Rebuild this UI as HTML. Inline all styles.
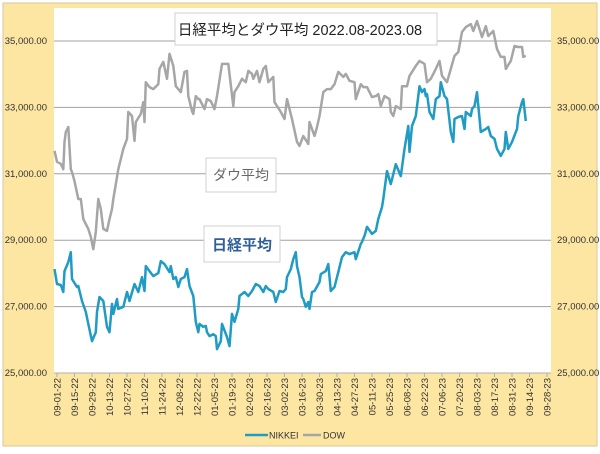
<!DOCTYPE html>
<html><head><meta charset="utf-8"><style>
body{margin:0;width:600px;height:449px;background:#fff;overflow:hidden;font-family:"Liberation Sans","Noto Sans CJK JP",sans-serif}
svg text{font-family:"Liberation Sans","Noto Sans CJK JP",sans-serif}
</style></head><body>
<svg id="chart" width="600" height="449" xmlns="http://www.w3.org/2000/svg">
<rect x="3" y="3" width="594" height="443" fill="#FDE6A2" stroke="#D6C79C" stroke-width="1"/>
<rect x="54" y="8" width="497" height="365" fill="#fff"/>
<g id="grid"></g><g id="axes"></g><g id="series"></g>
<g>
<rect x="175" y="13" width="262" height="32" fill="#fff" stroke="#D0D0D0"/>
<text x="300" y="35" font-size="14.5" text-anchor="middle" fill="#222">日経平均とダウ平均 2022.08-2023.08</text></g>
<g>
<rect x="206" y="158" width="70" height="34" fill="#fff" stroke="#D0D0D0"/>
<text x="241" y="180" font-size="14" text-anchor="middle" fill="#666">ダウ平均</text></g>
<g>
<rect x="204" y="226" width="76" height="36" fill="#fff" stroke="#D0D0D0"/>
<text x="242" y="250" font-size="15" font-weight="bold" text-anchor="middle" fill="#2F5E9B">日経平均</text></g>
<g>
<line x1="245" y1="435" x2="268" y2="435" stroke="#1F9BC4" stroke-width="2.5"/>
<text x="269" y="438.5" font-size="9" fill="#333">NIKKEI</text>
<line x1="303" y1="435" x2="321" y2="435" stroke="#A6A6A6" stroke-width="2.5"/>
<text x="323" y="438.5" font-size="9" fill="#333">DOW</text></g>
</svg>
<script>
const yTicks=[25000,27000,29000,31000,33000,35000];
const xTickLabels=["09-01-22","09-15-22","09-29-22","10-13-22","10-27-22","11-10-22","11-24-22","12-08-22","12-22-22","01-05-23","01-19-23","02-02-23","02-16-23","03-02-23","03-16-23","03-30-23","04-13-23","04-27-23","05-11-23","05-25-23","06-08-23","06-22-23","07-06-23","07-20-23","08-03-23","08-17-23","08-31-23","09-14-23","09-28-23"];
const nikkeiDays=[-2,0,3,5,6,9,11,12,16,17,20,23,25,28,31,32,34,37,40,42,44,45,48,49,53,56,58,62,65,68,70,71,74,77,81,83,86,90,91,93,95,97,99,102,104,106,109,111,113,114,117,119,120,122,125,127,128,131,132,136,138,140,142,145,146,150,153,156,159,162,165,167,169,173,175,178,181,183,184,187,189,191,192,194,196,197,199,201,202,204,206,210,211,215,217,219,222,225,228,231,234,238,239,243,244,246,248,252,255,257,260,261,264,267,271,275,278,281,282,284,287,290,292,294,295,296,298,301,303,306,307,310,312,315,317,318,321,324,326,327,331,332,334,336,339,343,345,347,350,352,355,358,359,361,364,368,369,372,373,375];
const nikkeiVals=[28130,27680,27650,27440,28070,28340,28640,27830,27590,27620,27170,26840,26480,25960,26230,26840,27290,27170,26390,26230,27080,26780,27230,26930,26990,27440,27170,27680,27440,27890,27470,28220,28070,27920,28010,28370,28280,28040,28220,27830,27890,27590,27830,27890,28130,27620,27320,26540,26230,26480,26390,26420,26230,26110,26170,26110,25720,25960,26480,26080,25810,26780,26540,26930,27320,27440,27320,27470,27680,27620,27440,27620,27530,27440,27140,27470,27440,27530,27890,28130,28430,28640,28220,27890,27290,27230,26990,27140,26930,27440,27470,27740,27980,28070,28280,27470,27590,28040,28490,28640,28580,28640,28430,28890,28950,29130,29400,29190,29280,29640,30000,30240,31080,30690,31290,30930,31750,32440,31660,32440,32740,33640,33460,33550,33340,33400,32860,32650,33250,33340,33760,33340,33250,32260,31960,32650,32710,32740,32350,32860,32740,32950,33040,33460,32260,32350,32410,32140,32050,31750,31540,31750,32260,31750,31960,32350,32740,33160,33250,32590];
const dowDays=[-2,0,3,5,6,7,9,11,12,14,17,19,21,25,27,29,31,32,33,35,37,40,42,44,45,46,49,53,56,57,60,62,63,67,69,70,71,74,77,81,82,85,88,90,93,95,99,102,104,105,108,109,111,113,114,118,120,123,126,128,132,137,141,142,145,148,151,153,156,157,160,162,165,167,169,173,174,179,182,184,188,192,194,197,201,202,206,208,210,213,216,219,222,225,229,231,234,238,239,243,245,248,252,255,257,259,262,266,267,269,271,275,276,280,282,287,290,294,296,299,303,306,308,312,315,318,321,324,327,331,333,336,340,343,345,349,352,355,358,359,363,366,369,372,373,375];
const dowVals=[31690,31360,31300,31140,31960,32260,32410,31140,31050,30780,30240,30240,29640,29340,29100,28730,29250,29730,30240,29940,29340,29280,29640,29940,30240,30450,31140,31750,32050,32860,32740,31990,32560,32800,33160,32560,33760,33610,33550,33700,34160,34370,33860,34610,34250,33640,33460,34070,34100,33340,32890,32800,33340,33250,33250,32950,33250,33190,32950,33340,34310,34310,33040,33460,33640,33860,33760,34100,34010,33860,34100,33760,34160,34250,33760,33920,33160,32860,32650,33250,32650,31960,31840,32140,31900,32560,32140,32410,32740,33460,33550,33550,33700,34070,33920,34010,33800,33760,33250,33700,33610,33610,33310,33340,33400,33040,33340,33250,32860,32740,33040,32950,33640,33640,33950,34250,34400,34310,33760,33860,34160,34400,33950,33760,34160,34550,34670,35270,35420,35510,35300,35600,35120,35450,35150,35300,34760,34520,34520,34160,34400,34850,34820,34820,34520,34550];

const NS='http://www.w3.org/2000/svg';
function xScale(d){return 57+d*1.25;}
function yScale(v){return 373-(v-25000)*0.0332;}
function mk(tag,attrs,parent){const e=document.createElementNS(NS,tag);for(const k in attrs)e.setAttribute(k,attrs[k]);parent.appendChild(e);return e;}
const grid=document.getElementById('grid'),axes=document.getElementById('axes'),series=document.getElementById('series');
function fmt(v){return v.toLocaleString('en-US',{minimumFractionDigits:2,maximumFractionDigits:2});}
yTicks.forEach(v=>{
  const y=yScale(v);
  if(v>25000){const l=mk('line',{x1:54,x2:551,y1:y,y2:y,stroke:'#A0A0A0','stroke-width':1},grid);
  
  }
  const t=mk('text',{x:47,y:y+3,'font-size':9.5,'text-anchor':'end',fill:'#333'},axes);t.textContent=fmt(v);
  
  
  const t2=mk('text',{x:557,y:y+3,'font-size':9.5,fill:'#333'},axes);t2.textContent=fmt(v);
  
  
});
const ax=mk('line',{x1:54,x2:551,y1:373,y2:373,stroke:'#B0B0B0'},axes);


xTickLabels.forEach((s,i)=>{
  const x=xScale(i*14);
  const tk=mk('line',{x1:x,x2:x,y1:373,y2:377,stroke:'#B0B0B0'},axes);
  
  
  const t=mk('text',{x:0,y:0,'font-size':9.5,'text-anchor':'end',fill:'#333',transform:`translate(${x+3.5},378) rotate(-90)`},axes);
  t.textContent=s;
  
  
});
function line(days,vals,color,name){
  const d=days.map((dd,i)=>(i?'L':'M')+xScale(dd).toFixed(1)+','+yScale(vals[i]).toFixed(1)).join('');
  const p=mk('path',{d:d,fill:'none',stroke:color,'stroke-width':2.5,'stroke-linejoin':'round'},series);
  
  
}
line(dowDays,dowVals,'#A6A6A6','dow-line');
line(nikkeiDays,nikkeiVals,'#1F9BC4','nikkei-line');
</script>
</body></html>
